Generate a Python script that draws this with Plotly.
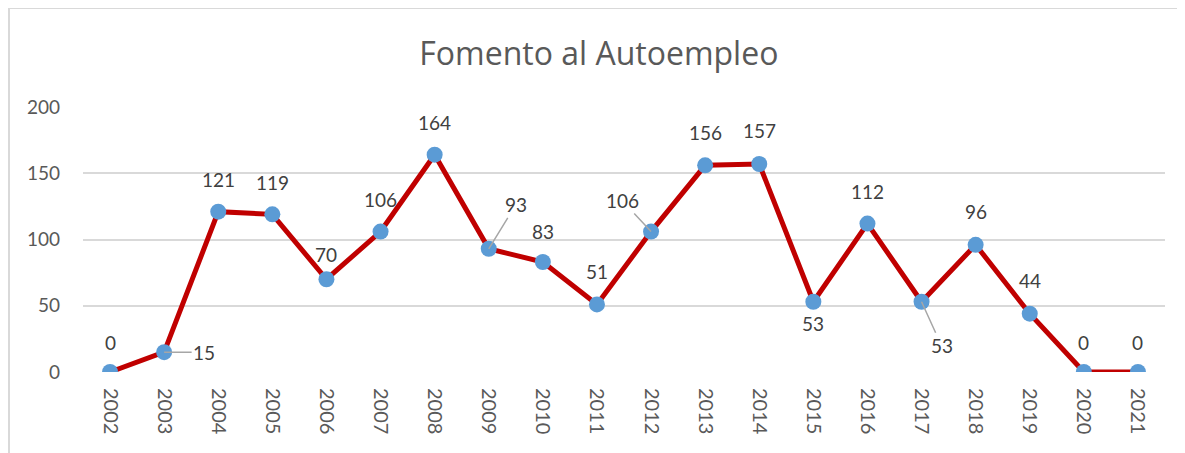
import plotly.graph_objects as go

years = [str(y) for y in range(2002, 2022)]
values = [0, 15, 121, 119, 70, 106, 164, 93, 83, 51, 106, 156, 157, 53, 112, 53, 96, 44, 0, 0]
title_text = "Fomento al Autoempleo"
y_ticks = [0, 50, 100, 150, 200]

# label placement (pixel offsets of the label centre from the point) and leader flag
label_dx = [0, 40, 0, 0, 0, 0, 0, 27, 0, 0, -29, 0, 0, 0, 0, 20, 0, 0, 0, 0]
label_dy = [-30, 0, -32, -32, -25, -32, -32, -44, -31, -33, -31, -33, -33, 22, -32, 44, -33, -33, -30, -30]
leader = [False, True, False, False, False, False, False, True, False, False, True,
          False, False, False, False, True, False, False, False, False]

FONT = "Lato, 'Open Sans', sans-serif"
TITLE_FONT = "'Open Sans', Lato, sans-serif"

fig = go.Figure()
fig.add_trace(go.Scatter(
    x=years, y=values, mode="lines+markers",
    line=dict(color="#C00000", width=5),
    marker=dict(color="#5B9BD5", size=16, line=dict(width=0)),
    hoverinfo="x+y", showlegend=False,
))

for i, (v, dx, dy, ld) in enumerate(zip(values, label_dx, label_dy, leader)):
    if ld:
        fig.add_annotation(x=i, y=v, text=str(v), showarrow=True, ax=dx, ay=dy,
                           arrowhead=0, arrowwidth=1.5, arrowcolor="#A6A6A6",
                           standoff=0, startstandoff=0,
                           font=dict(family=FONT, size=19, color="#404040"))
    else:
        fig.add_annotation(x=i, y=v, text=str(v), showarrow=False,
                           xshift=dx, yshift=-dy,
                           font=dict(family=FONT, size=19, color="#404040"))

# outer chart border (left and top visible)
fig.add_shape(type="path", xref="paper", yref="paper",
              path="M -0.0684,-0.5 L -0.0684,1.3736 L 1.1,1.3736",
              line=dict(color="#D9D9D9", width=2))

fig.update_layout(
    width=1177, height=445,
    margin=dict(l=75, r=20, t=99, b=81),
    paper_bgcolor="white", plot_bgcolor="white",
    title=dict(text=title_text, x=0.502, xanchor="center", y=0.898, yanchor="middle",
               font=dict(family=TITLE_FONT, size=32, color="#595959")),
    font=dict(family=FONT, color="#595959"),
    xaxis=dict(type="category", tickangle=90, showgrid=False, showline=False,
               ticks="", tickfont=dict(size=20, color="#595959"),
               ticklabelstandoff=15, range=[-0.5, 19.5]),
    yaxis=dict(range=[0, 200], tickvals=y_ticks, showgrid=True, gridcolor="#D9D9D9",
               gridwidth=1.5, zeroline=False, showline=False, ticks="",
               tickfont=dict(size=19, color="#595959"), ticklabelstandoff=22),
)

fig.write_html("out.html")
